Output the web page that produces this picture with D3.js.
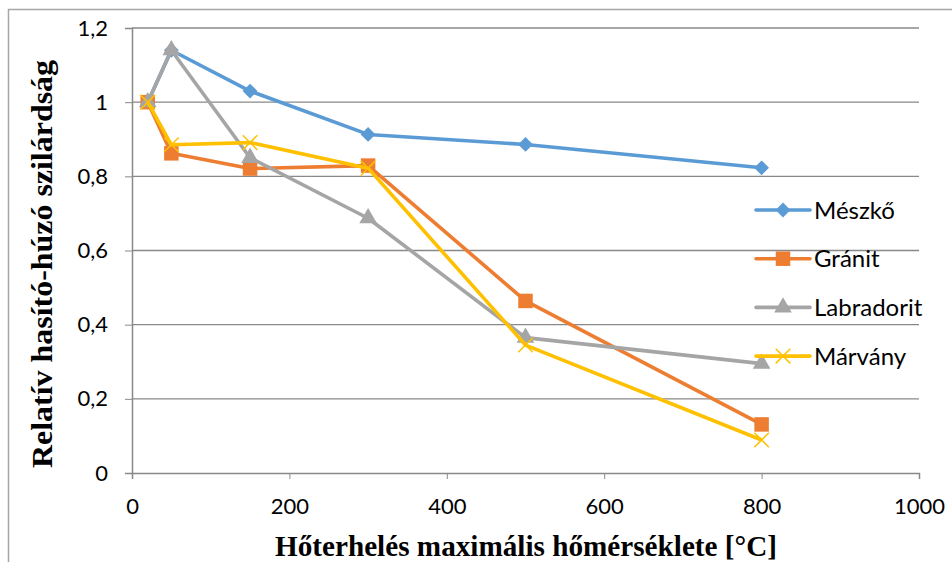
<!DOCTYPE html>
<html>
<head>
<meta charset="utf-8">
<script src="https://cdn.jsdelivr.net/npm/d3@7"></script>
<style>
  body { margin: 0; background: #fff; }
  svg { display: block; }
</style>
</head>
<body>
<div id="wrapper"></div>
<script>
// data
const temps = [20, 50, 150, 300, 500, 800];
const meszko = [1.0, 1.14, 1.03, 0.913, 0.886, 0.823];
const granit = [1.0, 0.862, 0.821, 0.829, 0.464, 0.131];
const labradorit = [1.0, 1.14, 0.85, 0.687, 0.365, 0.295];
const marvany = [1.0, 0.885, 0.891, 0.822, 0.345, 0.089];
const seriesNames = ["Mészkő", "Gránit", "Labradorit", "Márvány"];
const seriesColors = ["#5B9BD5", "#ED7D31", "#A5A5A5", "#FFC000"];
const seriesMarkers = ["diamond", "square", "triangle", "x"];
const xTicks = [0, 200, 400, 600, 800, 1000];
const yTicks = [0, 0.2, 0.4, 0.6, 0.8, 1.0, 1.2];

const seriesList = [meszko, granit, labradorit, marvany].map((vals, i) => ({
    name: seriesNames[i],
    color: seriesColors[i],
    marker: seriesMarkers[i],
    points: temps.map((t, j) => ({x: t, y: vals[j]}))
}));

const dimensions = {
    width: 952,
    height: 562,
    margins: {top: 28, right: 32, bottom: 89, left: 132}
};
dimensions.boundedWidth = dimensions.width - dimensions.margins.left - dimensions.margins.right;
dimensions.boundedHeight = dimensions.height - dimensions.margins.top - dimensions.margins.bottom;

const tickFont = "Lato, 'Open Sans', sans-serif";

const svg = d3.select("#wrapper")
    .append("svg")
        .attr("width", dimensions.width)
        .attr("height", dimensions.height);

// chart frame (left and top edges visible)
svg.append("path")
    .attr("d", "M8.5,562 V9.5 H952")
    .attr("fill", "none")
    .attr("stroke", "#a6a6a6")
    .attr("stroke-width", 1.5);

const bounds = svg.append("g")
    .attr("transform", `translate(${dimensions.margins.left},${dimensions.margins.top})`);

const xScale = d3.scaleLinear()
    .domain([0, 1000])
    .range([0, 787]);
const yScale = d3.scaleLinear()
    .domain([0, 1.2])
    .range([dimensions.boundedHeight, 0]);

// horizontal gridlines
bounds.append("g")
    .selectAll("line")
    .data(yTicks.filter(d => d > 0))
    .join("line")
        .attr("x1", 0)
        .attr("x2", xScale(1000))
        .attr("y1", d => yScale(d))
        .attr("y2", d => yScale(d))
        .attr("stroke", "#898989")
        .attr("stroke-width", 1.3);

const fmt = d => d3.format("~g")(d).replace(".", ",");

// y axis
const yAxis = bounds.append("g")
    .call(d3.axisLeft(yScale).tickValues(yTicks).tickFormat(fmt).tickSize(7).tickPadding(17));
yAxis.attr("font-size", 22).attr("font-family", tickFont);
yAxis.select(".domain").attr("stroke", "#898989").attr("stroke-width", 1.5);
yAxis.selectAll(".tick line").attr("stroke", "#898989").attr("stroke-width", 1);
yAxis.selectAll("text").attr("fill", "#000");

// x axis
const xAxis = bounds.append("g")
    .attr("transform", `translate(0,${dimensions.boundedHeight})`)
    .call(d3.axisBottom(xScale).tickValues(xTicks).tickFormat(d3.format("d")).tickSize(6).tickPadding(19));
xAxis.attr("font-size", 22).attr("font-family", tickFont);
xAxis.select(".domain").attr("stroke", "#898989").attr("stroke-width", 1.5);
xAxis.selectAll(".tick line").attr("stroke", "#898989").attr("stroke-width", 1);
xAxis.selectAll("text").attr("fill", "#000");

// markers
const symbolFor = {
    diamond: d3.symbol().type(d3.symbolSquare).size(110),
    square: d3.symbol().type(d3.symbolSquare).size(210),
    triangle: d3.symbol().type(d3.symbolTriangle).size(135),
    x: d3.symbol().type(d3.symbolTimes).size(140)
};

const lineGenerator = d3.line()
    .x(d => xScale(d.x))
    .y(d => yScale(d.y));

function drawMarker(sel, s) {
    if (s.marker === "x") {
        sel.attr("d", symbolFor.x())
            .attr("fill", "none")
            .attr("stroke", s.color)
            .attr("stroke-width", 1.5);
    } else {
        sel.attr("d", symbolFor[s.marker]())
            .attr("fill", s.color)
            .attr("stroke", "none");
    }
}

// rotate diamonds 45 degrees on top of the position transform
const rot = s => s.marker === "diamond" ? " rotate(45)" : "";

seriesList.forEach(s => {
    const g = bounds.append("g");
    g.append("path")
        .attr("d", lineGenerator(s.points))
        .attr("fill", "none")
        .attr("stroke", s.color)
        .attr("stroke-width", 3.6)
        .attr("stroke-linejoin", "round");
    g.selectAll("path.marker")
        .data(s.points)
        .join("path")
            .attr("class", "marker")
            .attr("transform", d => `translate(${xScale(d.x)},${yScale(d.y)})${rot(s)}`)
            .each(function() { drawMarker(d3.select(this), s); });
});

// legend
const legend = svg.append("g")
    .attr("transform", "translate(756,210)");
seriesList.forEach((s, i) => {
    const item = legend.append("g")
        .attr("transform", `translate(0,${i * 48.7})`);
    item.append("line")
        .attr("x1", 0).attr("x2", 54)
        .attr("stroke", s.color)
        .attr("stroke-width", 3.6)
        .attr("stroke-linecap", "round");
    drawMarker(item.append("path").attr("transform", `translate(27,0)${rot(s)}`), s);
    item.append("text")
        .attr("x", 58)
        .attr("dy", "0.36em")
        .text(s.name)
        .attr("fill", "#000")
        .attr("font-family", tickFont)
        .attr("font-size", 24);
});

// axis titles
svg.append("text")
    .attr("x", 526)
    .attr("y", 556)
    .attr("text-anchor", "middle")
    .attr("textLength", 502)
    .attr("lengthAdjust", "spacingAndGlyphs")
    .text("Hőterhelés maximális hőmérséklete [°C]")
    .attr("font-family", "'Liberation Serif', 'Times New Roman', serif")
    .attr("font-weight", "bold")
    .attr("font-size", 30);

svg.append("text")
    .attr("transform", "translate(52,264) rotate(-90)")
    .attr("text-anchor", "middle")
    .attr("textLength", 408)
    .attr("lengthAdjust", "spacingAndGlyphs")
    .text("Relatív hasító-húzó szilárdság")
    .attr("font-family", "'Liberation Serif', 'Times New Roman', serif")
    .attr("font-weight", "bold")
    .attr("font-size", 30);
</script>
</body>
</html>
